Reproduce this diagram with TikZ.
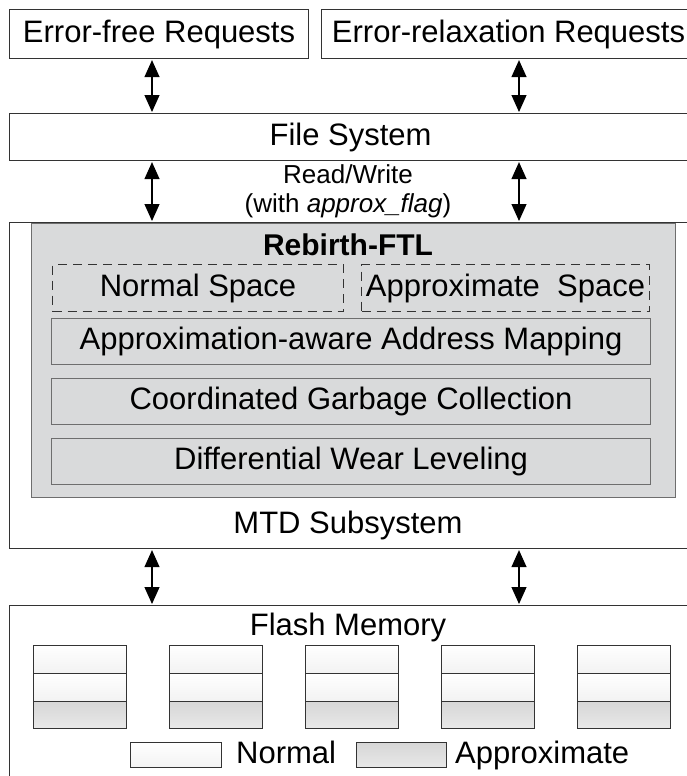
\documentclass[tikz,border=0pt]{standalone}
\usepackage{fontspec}
\setmainfont{Liberation Sans}
\usetikzlibrary{positioning,arrows.meta}

\definecolor{linegray}{HTML}{333333}
\definecolor{ftlgray}{HTML}{D9DADB}
\definecolor{ftlline}{HTML}{6E6E6E}

\tikzset{
  box/.style={draw=linegray, line width=1.1pt, inner sep=0pt, anchor=north west,
              font=\fontsize{31}{36}\selectfont},
  layer/.style={box, draw=ftlline},
  space/.style={box, dashed, dash pattern=on 9pt off 6pt},
  plain/.style={inner sep=0pt, font=\fontsize{31}{36}\selectfont},
  legtext/.style={plain, text height=22pt, text depth=6pt},
  biarrow/.style={{Triangle[width=15pt,length=17pt]}-{Triangle[width=15pt,length=17pt]},
                  line width=1.2pt, shorten <=1pt, shorten >=1pt},
  cellN/.style={draw=linegray, line width=1pt, top color=white, bottom color=gray!10},
  cellA/.style={draw=linegray, line width=1pt, top color=gray!32, bottom color=gray!18},
}

\begin{document}
\begin{tikzpicture}[x=1pt, y=-1pt]

\useasboundingbox (0,0) rectangle (687,776);
\clip (0,0) rectangle (687,776);

% request boxes
\node[box, minimum width=299pt, minimum height=49pt] (efr) at (9,9) {Error-free Requests};
\node[box, minimum width=374pt, minimum height=49pt] (err) at (321,9) {Error-relaxation Requests};

% file system
\node[box, minimum width=682pt, minimum height=47pt] (fs) at (9,113) {File System};

\node[plain, font=\fontsize{26}{29}\selectfont, align=center] (rw) at (348,191)
  {Read/Write\\(with \textit{approx\_flag})};

% MTD subsystem with Rebirth-FTL inside
\node[box, minimum width=682pt, minimum height=326pt] (mtd) at (9,222) {};
\node[plain] (mtdl) at (348,525) {MTD Subsystem};

\node[layer, fill=ftlgray, minimum width=644pt, minimum height=274pt] (ftl) at (31,223) {};
\node[plain, font=\fontsize{30}{36}\selectfont\bfseries] (ftlt) at (348,245) {Rebirth-FTL};

\node[space, minimum width=291pt, minimum height=47pt] (ns) at (52,264) {Normal Space};
\node[space, minimum width=288pt, minimum height=47pt] (as) at (361,264) {Approximate\ \ Space};

\node[layer, minimum width=599pt, minimum height=46pt] (aam) at (51,318) {Approximation-aware Address Mapping};
\node[layer, minimum width=599pt, minimum height=46pt] (cgc) at (51,378) {Coordinated Garbage Collection};
\node[layer, minimum width=599pt, minimum height=46pt] (dwl) at (51,438) {Differential Wear Leveling};

% flash memory
\node[box, minimum width=682pt, minimum height=200pt] (fm) at (9,605) {};
\node[plain] (fmt) at (348,627) {Flash Memory};

\foreach \bx in {33,169,305,441,577} {
  \draw[cellN] (\bx,645) rectangle ++(93,28);
  \draw[cellN] (\bx,673) rectangle ++(93,28);
  \draw[cellA] (\bx,701) rectangle ++(93,27);
}

% legend
\node[cellN, anchor=north west, minimum width=91pt, minimum height=25pt, inner sep=0pt] (legn) at (130,742) {};
\node[legtext, right=14pt of legn] (legnt) {Normal};
\node[cellA, anchor=north west, minimum width=90pt, minimum height=25pt, inner sep=0pt] (lega) at (356,742) {};
\node[legtext, right=8pt of lega] (legat) {Approximate};

% arrows
\coordinate (lx) at (152,0);
\coordinate (rx) at (519,0);
\draw[biarrow] (efr.south -| lx) -- (fs.north -| lx);
\draw[biarrow] (err.south -| rx) -- (fs.north -| rx);
\draw[biarrow] (fs.south -| lx) -- (mtd.north -| lx);
\draw[biarrow] (fs.south -| rx) -- (mtd.north -| rx);
\draw[biarrow] (mtd.south -| lx) -- (fm.north -| lx);
\draw[biarrow] (mtd.south -| rx) -- (fm.north -| rx);

\end{tikzpicture}
\end{document}
